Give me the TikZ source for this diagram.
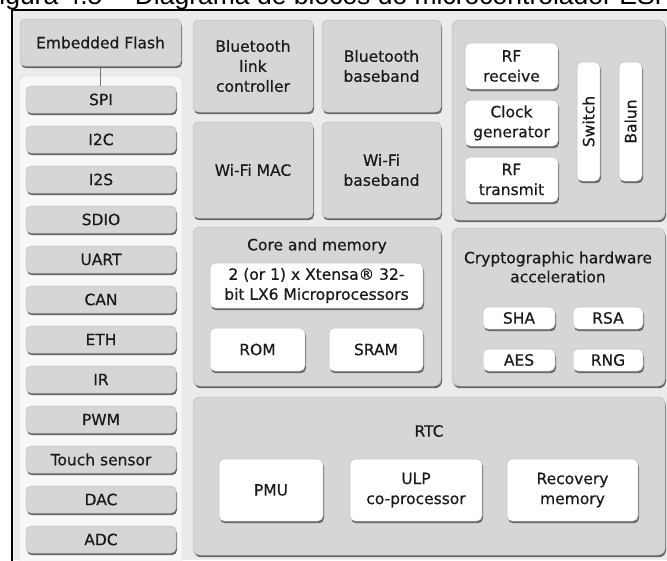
\documentclass[tikz,border=0pt]{standalone}
\usepackage{fontspec}
\setmainfont[FakeBold=0.5]{DejaVu Sans}
\newfontfamily\capfont{Liberation Sans}
\usetikzlibrary{shadows}
\definecolor{boxgray}{HTML}{D6D6D6}
\definecolor{edgegray}{HTML}{BEBEBE}
\definecolor{shade}{HTML}{666666}
\definecolor{ground}{HTML}{EBEBEB}
\definecolor{panelwhite}{HTML}{F7F7F7}
\definecolor{ink}{HTML}{1A1A1A}
\tikzset{
  blk/.style={rounded corners=5pt, inner sep=0pt, align=center, text=ink,
    font=\fontsize{15.5}{20}\selectfont, draw=edgegray, line width=0.5pt,
    general shadow={fill=shade, shadow xshift=1pt, shadow yshift=-2.2pt}},
  gblk/.style={blk, fill=boxgray},
  pnl/.style={blk, fill=boxgray, rounded corners=7pt},
  wblk/.style={blk, fill=white},
  ttl/.style={align=center, text=ink, inner sep=0pt, font=\fontsize{15.5}{19}\selectfont},
  vtxt/.style={rotate=90, text=ink, inner sep=0pt, font=\fontsize{15.5}{19}\selectfont},
  linkline/.style={draw=black!55, line width=0.8pt},
}
% box given by its corners: style, x1, y1, x2, y2, name, text
\newcommand\blockat[7]{%
  \node[#1, minimum width={(#4)-(#2)}, minimum height={(#5)-(#3)}] (#6)
    at ({((#2)+(#4))/2},{((#3)+(#5))/2}) {#7};}
\begin{document}
\begin{tikzpicture}[x=1pt, y=-1pt]
\useasboundingbox (0,0) rectangle (667,560);
\clip (0,0) rectangle (667,560);
\fill[white] (0,0) rectangle (667,560);
\fill[ground] (12,10) rectangle (667,560);

% caption above the frame
\node[anchor=base west, inner sep=0pt, text=black, font=\capfont\fontsize{26.5}{26.5}\selectfont]
  (cap) at (-17,4) {Figura 4.5 -- Diagrama de blocos do microcontrolador ESP32};

% frame
\draw[line width=2pt] (12,565) -- (12,10) -- (670,10);

% peripheral column
\node[draw=black!20, fill=panelwhite, rounded corners=6pt, minimum width=163, minimum height=500,
  inner sep=0pt] (lpanel) at (100.5,326) {};
\blockat{gblk}{20}{19}{181}{66}{flash}{Embedded Flash}
\foreach \t [count=\i from 0] in {SPI,I2C,I2S,SDIO,UART,CAN,ETH,IR,PWM,Touch sensor,DAC,ADC}{
  \blockat{gblk}{26}{86+40*\i}{176}{113+40*\i}{p\i}{\t}
}
\draw[linkline] (flash.south) -- (flash.south |- p0.north);

% radio blocks
\blockat{gblk}{193}{20}{313}{112}{btlc}{Bluetooth\\link\\controller}
\blockat{gblk}{322}{20}{441}{112}{btbb}{Bluetooth\\baseband}
\blockat{gblk}{193}{122}{313}{218}{wmac}{Wi-Fi MAC}
\blockat{gblk}{322}{122}{441}{218}{wbb}{Wi-Fi\\baseband}

% RF front end
\blockat{pnl}{452}{20}{665}{220}{rf}{}
\blockat{wblk}{465}{43}{558}{89}{rfrx}{RF\\receive}
\blockat{wblk}{465}{100}{558}{146}{clk}{Clock\\generator}
\blockat{wblk}{465}{157}{558}{202}{rftx}{RF\\transmit}
\blockat{wblk}{577}{62}{600}{181}{sw}{}
\blockat{wblk}{619}{62}{642}{181}{balun}{}
\node[vtxt] (swt) at (sw.center) {Switch};
\node[vtxt] (balt) at (balun.center) {Balun};

% core and memory
\blockat{pnl}{193}{227}{441}{386}{core}{}
\node[ttl] (coret) at (317,246) {Core and memory};
\blockat{wblk}{210}{263}{423}{308}{cpu}{2 (or 1) x Xtensa\textregistered{} 32-\\bit LX6 Microprocessors}
\blockat{wblk}{210}{328}{305}{371}{rom}{ROM}
\blockat{wblk}{329}{328}{423}{371}{sram}{SRAM}

% cryptographic accelerators
\blockat{pnl}{452}{228}{665}{386}{crypto}{}
\node[ttl] (cryptot) at (558,267) {Cryptographic hardware\\acceleration};
\blockat{wblk}{483}{307}{555}{329}{sha}{SHA}
\blockat{wblk}{573}{307}{643}{329}{rsa}{RSA}
\blockat{wblk}{483}{349}{555}{371}{aes}{AES}
\blockat{wblk}{573}{349}{643}{371}{rng}{RNG}

% real-time clock domain
\blockat{pnl}{193}{397}{665}{555}{rtc}{}
\node[ttl] (rtct) at (429,431) {RTC};
\blockat{wblk}{219}{459}{323}{521}{pmu}{PMU}
\blockat{wblk}{350}{459}{482}{521}{ulp}{ULP\\co-processor}
\blockat{wblk}{507}{459}{638}{521}{rec}{Recovery\\memory}
\end{tikzpicture}
\end{document}
